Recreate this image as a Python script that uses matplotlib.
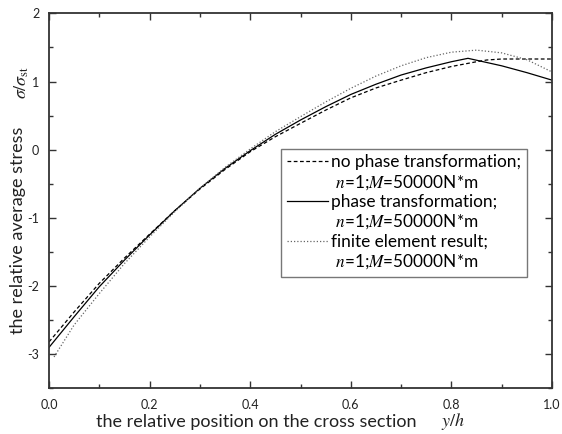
import matplotlib
matplotlib.use("Agg")
import matplotlib.pyplot as plt
from matplotlib.lines import Line2D
from matplotlib.ticker import MultipleLocator

plt.rcParams['font.family'] = ['Lato', 'DejaVu Sans']
plt.rcParams['mathtext.fontset'] = 'stix'

# relative position y/h
x_no = [0.0, 0.05, 0.1, 0.15, 0.2, 0.25, 0.3, 0.35, 0.4, 0.45, 0.5, 0.55,
        0.6, 0.65, 0.7, 0.75, 0.8, 0.85, 0.87, 0.9, 1.0]
y_no = [-2.82, -2.38, -1.96, -1.59, -1.24, -0.895, -0.577, -0.29, -0.03, 0.19,
        0.386, 0.58, 0.76, 0.905, 1.02, 1.13, 1.22, 1.29, 1.315, 1.33, 1.33]

x_pt = [0.0, 0.05, 0.1, 0.15, 0.2, 0.25, 0.3, 0.35, 0.4, 0.45, 0.5, 0.55,
        0.6, 0.65, 0.7, 0.75, 0.8, 0.833, 0.9, 0.95, 1.0]
y_pt = [-2.90, -2.45, -2.01, -1.62, -1.25, -0.895, -0.567, -0.274, -0.015, 0.225,
        0.435, 0.63, 0.81, 0.96, 1.095, 1.20, 1.29, 1.34, 1.23, 1.13, 1.02]

x_fe = [0.01, 0.05, 0.1, 0.15, 0.2, 0.25, 0.3, 0.35, 0.4, 0.45, 0.5, 0.55,
        0.6, 0.65, 0.7, 0.75, 0.8, 0.85, 0.9, 0.95, 1.0]
y_fe = [-3.04, -2.57, -2.11, -1.67, -1.28, -0.91, -0.567, -0.26, 0.01, 0.264,
        0.484, 0.70, 0.90, 1.08, 1.23, 1.35, 1.43, 1.46, 1.42, 1.32, 1.14]

labels = ["no phase transformation;", "phase transformation;", "finite element result;"]
sub_label = " $n$=1;$M$=50000N*m"

fig = plt.figure(figsize=(5.62, 4.34), dpi=100)
ax = fig.add_axes([0.0872, 0.1053, 0.895, 0.864])

l1, = ax.plot(x_no, y_no, color='black', lw=0.9, linestyle=(0, (3, 2)))
l2, = ax.plot(x_pt, y_pt, color='black', lw=0.9, linestyle='-')
l3, = ax.plot(x_fe, y_fe, color='#666666', lw=0.9, linestyle=(0, (1, 1.6)))

ax.set_xlim(0, 1.0)
ax.set_ylim(-3.5, 2)
ax.xaxis.set_minor_locator(MultipleLocator(0.1))
ax.yaxis.set_minor_locator(MultipleLocator(0.5))
ax.set_xticks([0, 0.2, 0.4, 0.6, 0.8, 1.0])
ax.set_xticklabels(['0.0', '0.2', '0.4', '0.6', '0.8', '1.0'])
ax.set_yticks([-3, -2, -1, 0, 1, 2])
ax.set_yticklabels(['-3', '-2', '-1', '0', '1', '2'])

ax.tick_params(which='both', direction='in', top=True, right=True,
               colors='#333333', labelcolor='#222222', labelsize=9)
ax.tick_params(which='major', length=5, width=1.0)
ax.tick_params(which='minor', length=3, width=1.0)
ax.tick_params(axis='x', pad=8)
ax.tick_params(axis='y', pad=7)
for s in ax.spines.values():
    s.set_color('#333333')
    s.set_linewidth(1.3)

fig.text(0.456, 0.028, "the relative position on the cross section", fontsize=13,
         ha='center', va='center', color='#222222')
fig.text(0.806, 0.028, "$y/h$", fontsize=13, ha='center', va='center', color='#222222')
fig.text(0.032, 0.47, "the relative average stress", fontsize=13, rotation=90,
         ha='center', va='center', color='#222222')
fig.text(0.039, 0.81, r"$\sigma/\sigma_{\rm st}$", fontsize=13, rotation=90,
         ha='center', va='center', color='#222222')

blank = Line2D([], [], linestyle='none')
handles = [l1, blank, l2, blank, l3, blank]
leg_labels = [labels[0], sub_label, labels[1], sub_label, labels[2], sub_label]
leg = ax.legend(handles, leg_labels, loc='upper left', bbox_to_anchor=(0.462, 0.638),
                frameon=True, fancybox=False, fontsize=12.4, handlelength=2.4,
                handletextpad=0.2, labelspacing=0.15, borderpad=0.3, borderaxespad=0)
leg.get_frame().set_edgecolor('#555555')
leg.get_frame().set_linewidth(1.0)

fig.savefig("out.png", dpi=100)
